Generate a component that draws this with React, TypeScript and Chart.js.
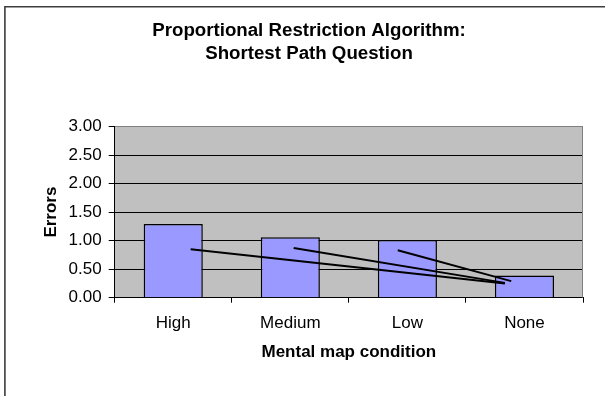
import React, { useEffect, useRef } from 'react';
import { Chart, registerables } from 'chart.js';

Chart.register(...registerables);

const FONT = "'Liberation Sans', Arial, Helvetica, sans-serif";

// Chart text
const titleLines = ['Proportional Restriction Algorithm:', 'Shortest Path Question'];
const xAxisTitle = 'Mental map condition';
const yAxisTitle = 'Errors';

// Bar data: mean errors per mental map condition
const categories = ['High', 'Medium', 'Low', 'None'];
const meanErrors = [1.29, 1.06, 1.01, 0.39];

// Y axis range and tick step
const yMin = 0;
const yMax = 3;
const yStep = 0.5;

// Comparison connectors (x in category index units, y in errors)
const highToNone = [
  { x: -0.02, y: 0.85 },
  { x: 3.0, y: 0.25 },
];
const mediumToNone = [
  { x: 0.97, y: 0.87 },
  { x: 3.0, y: 0.26 },
];
const lowToNone = [
  { x: 1.97, y: 0.83 },
  { x: 3.06, y: 0.29 },
];

const plotArea = {
  id: 'plotArea',
  beforeDraw(chart: any) {
    const { ctx, chartArea: a } = chart;
    ctx.save();
    ctx.fillStyle = '#C0C0C0';
    ctx.fillRect(a.left, a.top, a.right - a.left, a.bottom - a.top);
    ctx.restore();
  },
  beforeDatasetsDraw(chart: any) {
    const { ctx, chartArea: a } = chart;
    ctx.save();
    ctx.strokeStyle = '#808080';
    ctx.lineWidth = 1;
    ctx.beginPath();
    ctx.moveTo(Math.round(a.right) - 0.5, a.top);
    ctx.lineTo(Math.round(a.right) - 0.5, a.bottom);
    ctx.stroke();
    ctx.restore();
  },
};

const outerFrame = {
  id: 'outerFrame',
  afterDraw(chart: any) {
    const { ctx, width, height } = chart;
    ctx.save();
    ctx.strokeStyle = '#3c3c3c';
    ctx.lineWidth = 1.6;
    ctx.beginPath();
    ctx.moveTo(4.9, height + 2);
    ctx.lineTo(4.9, 6.7);
    ctx.lineTo(width + 2, 6.7);
    ctx.stroke();
    ctx.restore();
  },
};

const connector = (data: { x: number; y: number }[]) => ({
  type: 'line' as const,
  data,
  xAxisID: 'xl',
  yAxisID: 'y',
  borderColor: '#000000',
  borderWidth: 2,
  pointRadius: 0,
  fill: false,
  order: 1,
});

export default function App() {
  const canvasRef = useRef<HTMLCanvasElement | null>(null);

  useEffect(() => {
    const canvas = canvasRef.current;
    if (!canvas) return;
    const chart = new Chart(canvas, {
      type: 'bar',
      data: {
        labels: categories,
        datasets: [
          {
            type: 'bar',
            data: meanErrors,
            xAxisID: 'x',
            yAxisID: 'y',
            backgroundColor: '#9999FF',
            borderColor: '#000000',
            borderWidth: 1.5,
            grouped: false,
            barPercentage: 0.505,
            categoryPercentage: 1,
            order: 2,
          } as any,
          connector(highToNone) as any,
          connector(mediumToNone) as any,
          connector(lowToNone) as any,
        ],
      },
      options: {
        responsive: false,
        animation: false,
        devicePixelRatio: 1,
        layout: { padding: { left: 35, right: 22, top: 0, bottom: 0 } },
        plugins: {
          legend: { display: false },
          tooltip: { enabled: false },
          title: {
            display: true,
            text: titleLines,
            color: '#000000',
            font: { family: FONT, size: 18.7, weight: 'bold', lineHeight: 1.23 },
            padding: { top: 19.5, bottom: 61 },
          },
        },
        scales: {
          x: {
            type: 'category',
            offset: true,
            grid: {
              display: true,
              drawOnChartArea: false,
              offset: true,
              tickLength: 5,
              color: '#000000',
              lineWidth: 1,
            },
            border: { display: true, color: '#000000', width: 1 },
            ticks: {
              color: '#000000',
              font: { family: FONT, size: 17 },
              padding: 10,
              maxRotation: 0,
              autoSkip: false,
            },
            title: {
              display: true,
              text: xAxisTitle,
              color: '#000000',
              font: { family: FONT, size: 17, weight: 'bold' },
              padding: { top: 0, bottom: 33.8 },
            },
            afterFit: (s: any) => {
              s.height = 98.3;
            },
          },
          xl: {
            type: 'linear',
            display: false,
            min: -0.5,
            max: 3.5,
          },
          y: {
            type: 'linear',
            min: yMin,
            max: yMax,
            ticks: {
              stepSize: yStep,
              color: '#000000',
              font: { family: FONT, size: 17 },
              padding: 7,
              callback: (v: any) => Number(v).toFixed(2),
            },
            grid: {
              color: (ctx: any) => (ctx.tick && ctx.tick.value === yMax ? '#808080' : '#000000'),
              tickColor: '#000000',
              tickLength: 6,
              lineWidth: 1,
            },
            border: { display: true, color: '#000000', width: 1 },
            title: {
              display: true,
              text: yAxisTitle,
              color: '#000000',
              font: { family: FONT, size: 17, weight: 'bold' },
              padding: { top: 5.8, bottom: 0 },
            },
            afterFit: (s: any) => {
              s.width = 79.7;
            },
          },
        },
      } as any,
      plugins: [plotArea, outerFrame],
    });
    return () => chart.destroy();
  }, []);

  return (
    <div style={{ position: 'fixed', left: 0, top: 0, width: 605, height: 396, background: '#ffffff' }}>
      <canvas ref={canvasRef} width={605} height={396} style={{ display: 'block', width: 605, height: 396 }} />
    </div>
  );
}
